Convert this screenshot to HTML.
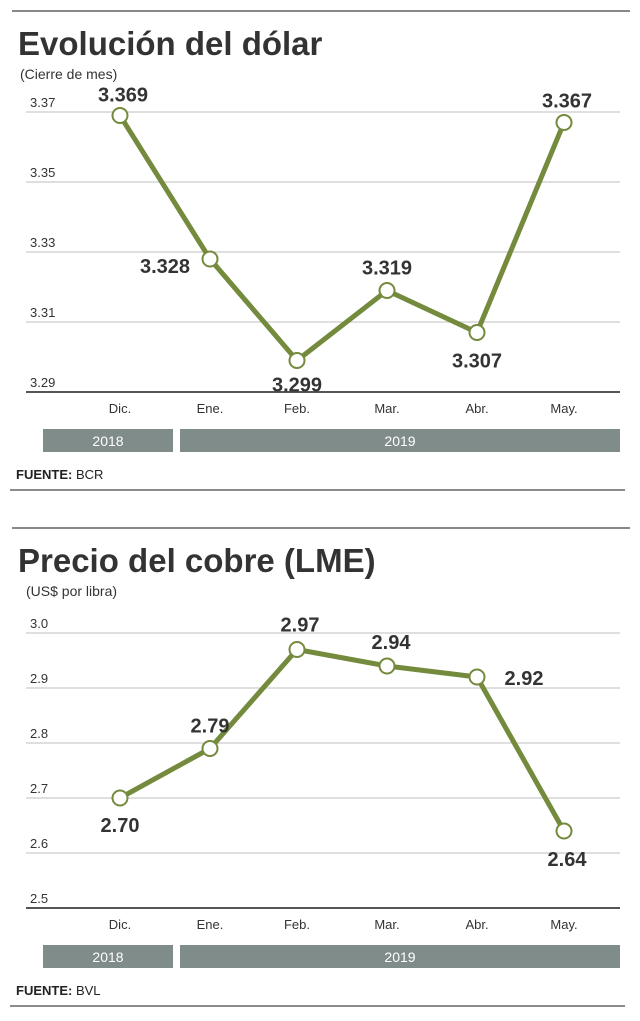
<!DOCTYPE html>
<html><head><meta charset="utf-8"><style>
body{margin:0;background:#fff;width:640px;height:1021px;overflow:hidden;font-family:"Liberation Sans",sans-serif}
svg{display:block}
</style></head><body>
<svg width="640" height="1021">
<g id="c1"></g>
<g id="c2"></g>
</svg>
<script>
const months=["Dic.","Ene.","Feb.","Mar.","Abr.","May."];
const dollarValues=[3.369,3.328,3.299,3.319,3.307,3.367];
const dollarLabels=["3.369","3.328","3.299","3.319","3.307","3.367"];
const dollarTicks=[3.37,3.35,3.33,3.31,3.29];
const dollarTickLabels=["3.37","3.35","3.33","3.31","3.29"];
const copperValues=[2.70,2.79,2.97,2.94,2.92,2.64];
const copperLabels=["2.70","2.79","2.97","2.94","2.92","2.64"];
const copperTicks=[3.0,2.9,2.8,2.7,2.6,2.5];
const copperTickLabels=["3.0","2.9","2.8","2.7","2.6","2.5"];
const NS="http://www.w3.org/2000/svg";
const xs=[120,210,297,387,477,564];
function mk(p,t,a,txt){const e=document.createElementNS(NS,t);for(const k in a)e.setAttribute(k,a[k]);if(txt!==undefined)e.textContent=txt;p.appendChild(e);return e;}
function chart(g,o){
  const y=v=>o.y0+(o.v0-v)*o.scale;
  let e;
  e=mk(g,"line",{x1:12,x2:630,y1:o.top,y2:o.top,stroke:"#888","stroke-width":2});
  
  e=mk(g,"text",{x:18,y:o.top+44,"font-size":33,"font-weight":"bold",fill:"#333"},o.title);
  
  e=mk(g,"text",{x:o.subX,y:o.top+68,"font-size":14,fill:"#333"},o.sub);
  
  o.ticks.forEach((t,i)=>{
    const last=i===o.ticks.length-1;
    e=mk(g,"line",{x1:26,x2:620,y1:y(t),y2:y(t),stroke:last?"#555":"#ccc","stroke-width":last?2:1.2});
    
    e=mk(g,"text",{x:30,y:y(t)-5,"font-size":13,fill:"#333"},o.tickLabels[i]);
    
  });
  const axisY=y(o.ticks[o.ticks.length-1]);
  months.forEach((m,i)=>{
    e=mk(g,"text",{x:xs[i],y:axisY+21,"font-size":13,fill:"#333","text-anchor":"middle"},m);
    
  });
  const by=axisY+37;
  e=mk(g,"rect",{x:43,y:by,width:130,height:23,fill:"#7f8c89"});
  
  e=mk(g,"text",{x:108,y:by+17,"font-size":14,fill:"#fff","text-anchor":"middle"},"2018");
  
  e=mk(g,"rect",{x:180,y:by,width:440,height:23,fill:"#7f8c89"});
  
  e=mk(g,"text",{x:400,y:by+17,"font-size":14,fill:"#fff","text-anchor":"middle"},"2019");
  
  e=mk(g,"text",{x:16,y:by+50,"font-size":13,fill:"#222"});
  
  mk(e,"tspan",{"font-weight":"bold"},"FUENTE:");mk(e,"tspan",{},o.src);
  e=mk(g,"line",{x1:10,x2:625,y1:by+61,y2:by+61,stroke:"#666","stroke-width":1.5});
  
  e=mk(g,"polyline",{points:o.vals.map((v,i)=>xs[i]+","+y(v)).join(" "),fill:"none",stroke:"#748a3c","stroke-width":5,"stroke-linejoin":"round"});
  
  o.vals.forEach((v,i)=>{
    e=mk(g,"circle",{cx:xs[i],cy:y(v),r:7.5,fill:"#fff",stroke:"#748a3c","stroke-width":2});
    
    const [dx,dy]=o.off[i];
    e=mk(g,"text",{x:xs[i]+dx,y:y(v)+dy,"font-size":20,"font-weight":"bold",fill:"#333","text-anchor":"middle"},o.labels[i]);
    
  });
}
chart(document.getElementById("c1"),{top:11,title:"Evolución del dólar",sub:"(Cierre de mes)",subX:20,y0:112,v0:3.37,scale:3500,ticks:dollarTicks,tickLabels:dollarTickLabels,vals:dollarValues,labels:dollarLabels,src:" BCR",off:[[3,-14],[-45,14],[0,31],[0,-16],[0,35],[3,-15]]});
chart(document.getElementById("c2"),{top:528,title:"Precio del cobre  (LME)",sub:"(US$ por libra)",subX:26,y0:633,v0:3.0,scale:550,ticks:copperTicks,tickLabels:copperTickLabels,vals:copperValues,labels:copperLabels,src:" BVL",off:[[0,34],[0,-16],[3,-18],[4,-17],[47,8],[3,35]]});
</script>
</body></html>
